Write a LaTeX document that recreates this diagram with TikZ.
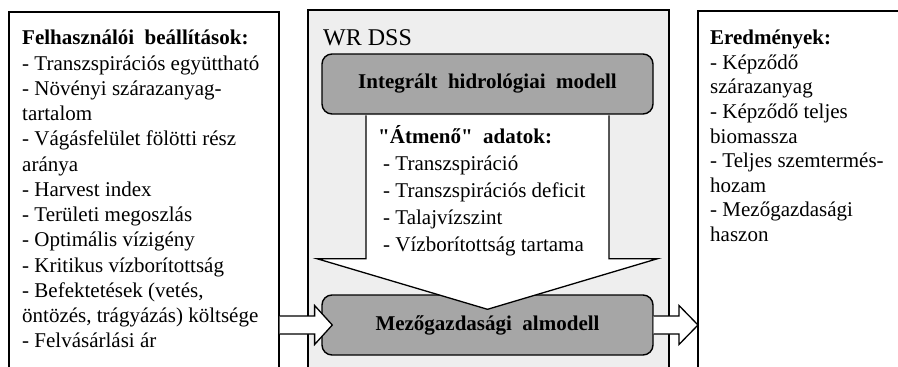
\documentclass[tikz,border=0pt]{standalone}
\usepackage{fontspec}
\setmainfont{Liberation Serif}
\newfontfamily\plainserif{Liberation Serif}
\usetikzlibrary{calc}
\definecolor{dssgray}{RGB}{238,238,238}
\definecolor{modelgray}{RGB}{166,166,166}

\tikzset{
  panel/.style={draw, line width=1.6pt, minimum height=400pt, anchor=north west, inner sep=0pt},
  listtext/.style={anchor=north west, align=left, inner sep=0pt, font=\fontsize{21pt}{25.25pt}\selectfont},
  model/.style={draw, line width=1.4pt, rounded corners=10pt, fill=modelgray, minimum width=331pt, minimum height=60pt, font=\fontsize{21pt}{25pt}\selectfont\bfseries},
  hollow/.style={draw, fill=white, line width=1.3pt},
}

\begin{document}
\begin{tikzpicture}[x=1pt,y=-1pt]
    \useasboundingbox (0,0) rectangle (898,367);
    \clip (0,0) rectangle (898,367);

    % three panels
    \node[panel, minimum width=270pt] (inputs) at (8,11) {};
    \node[panel, minimum width=361pt, fill=dssgray] (dss) at (307,9) {};
    \node[panel, minimum width=230pt] (outputs) at (697,10) {};

    \node[listtext] (inlist) at (22,30) {\textbf{Felhasználói\ \ beállítások:}\\
        - Transzspirációs együttható\\
        - Növényi szárazanyag-\\
        tartalom\\
        - Vágásfelület fölötti rész\\
        aránya\\
        - Harvest index\\
        - Területi megoszlás\\
        - Optimális vízigény\\
        - Kritikus vízborítottság\\
        - Befektetések (vetés,\\
        öntözés, trágyázás) költsége\\
        - Felvásárlási ár};

    \node[anchor=base west, inner sep=0pt, font=\fontsize{24pt}{28pt}\selectfont] (dsslabel) at (323,45) {WR DSS};

    % models
    \node[model] (agri) at (487.5,325) {Mezőgazdasági\ \ almodell};
    \node[model] (hydro) at (487.5,84) {Integrált\ \ hidrológiai\ \ modell};

    % big arrow between the models
    \filldraw[hollow] ($(hydro.south)+(-121.5,0.7)$) -- ++(0,143.3) -- ++(-49,0)
        -- ($(agri.north)+(0,15)$) -- ($(hydro.south)+(170,144)$) -- ++(-48.5,0)
        -- ($(hydro.south)+(121.5,0.7)$);

    \node[listtext, font=\fontsize{21pt}{27pt}\selectfont] (passlist) at (378,125) {{\plainserif\bfseries "Átmenő"\ \ adatok:}\\
        \hspace*{5pt}- Transzspiráció\\
        \hspace*{5pt}- Transzspirációs deficit\\
        \hspace*{5pt}- Talajvízszint\\
        \hspace*{5pt}- Vízborítottság tartama};

    \node[listtext, font=\fontsize{21pt}{24.6pt}\selectfont] (outlist) at (710,30) {\textbf{Eredmények:}\\
        - Képződő\\
        szárazanyag\\
        - Képződő teljes\\
        biomassza\\
        - Teljes szemtermés-\\
        hozam\\
        - Mezőgazdasági\\
        haszon};

    % side arrows
    \coordinate (inl) at (inputs.north east |- agri.west);
    \coordinate (outl) at (outputs.north west |- agri.east);
    \filldraw[hollow] ($(inl)+(0,-9)$) -- ++(35,0) -- ++(0,-10.5) -- ($(agri.west)+(11,0)$)
        -- ($(inl)+(35,19.5)$) -- ++(0,-10.5) -- ($(inl)+(0,9)$);
    \filldraw[hollow] ($(agri.east)+(0,-9)$) -- ($(outl)+(-18,-9)$) -- ++(0,-10.5) -- ($(outl)+(1,0)$)
        -- ($(outl)+(-18,19.5)$) -- ++(0,-10.5) -- ($(agri.east)+(0,9)$);
\end{tikzpicture}
\end{document}
